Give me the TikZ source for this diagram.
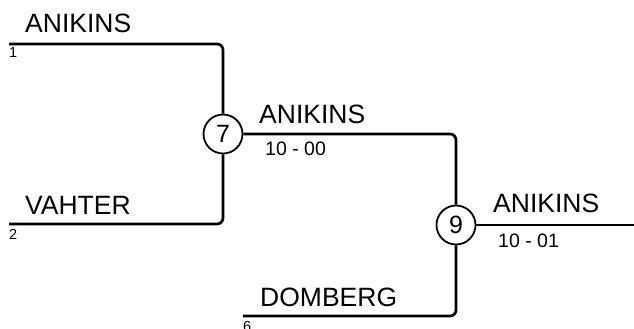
\documentclass[tikz,border=0pt]{standalone}
\usepackage{fontspec}
\setmainfont{Liberation Sans}
\usetikzlibrary{positioning,calc}

\begin{document}
\begin{tikzpicture}[
            x=1pt, y=-1pt,
            match node/.style={circle,draw,line width=1.8pt,inner sep=0pt,minimum size=39pt,font=\fontsize{25}{25}\selectfont},
            name node/.style={anchor=base west,inner sep=0pt,font=\fontsize{26.5}{26.5}\selectfont},
            score node/.style={anchor=base west,inner sep=0pt,font=\fontsize{19.5}{19.5}\selectfont},
            seed node/.style={anchor=base west,inner sep=0pt,font=\fontsize{14.5}{14.5}\selectfont},
            bracket/.style={draw,line width=2.7pt,rounded corners=6pt},
        ]
            \useasboundingbox (0,0) rectangle (634,329);

            % matches
            \node[match node] (m7) at (223,134) {7};
            \node[match node] (m9) at (456,225) {9};

            % line ends
            \coordinate (p1) at (9,44);
            \coordinate (p2) at (9,224);
            \coordinate (p6) at (243,316);
            \coordinate (win) at (634,225);

            % names and scores
            \node[name node] (anikins1) at (25,33) {ANIKINS};
            \node[seed node] (seed1) at (9,57) {1};
            \node[name node] (vahter) at (25,214) {VAHTER};
            \node[seed node] (seed2) at (9,239) {2};
            \node[name node] (anikins7) at (259,123) {ANIKINS};
            \node[score node] (score7) at (265,155) {10 - 00};
            \node[name node] (domberg) at (260,306) {DOMBERG};
            \node[seed node] (seed6) at (243,331) {6};
            \node[name node] (anikins9) at (493,212) {ANIKINS};
            \node[score node] (score9) at (498,247) {10 - 01};

            \path[bracket] (p1) -| (m7);
            \path[bracket] (p2) -| (m7);
            \path[bracket] (m7) -| (m9);
            \path[bracket] (p6) -| (m9);
            \path[bracket] (m9) -- (win);
        \end{tikzpicture}
\end{document}
